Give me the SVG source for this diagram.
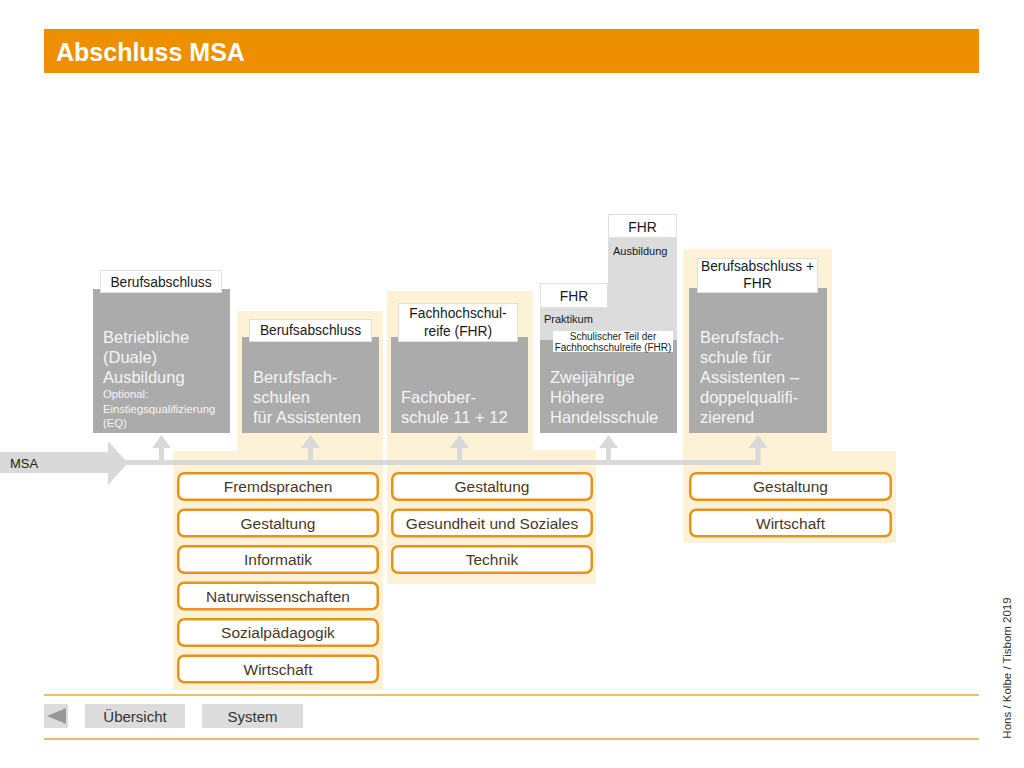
<svg xmlns="http://www.w3.org/2000/svg" width="1024" height="768" viewBox="0 0 1024 768">
<defs>
<style>
text{font-family:"Liberation Sans",Arial,sans-serif}
.cream{fill:#FDF1D6}
.gray{fill:#ABABAB}
.lgray{fill:#DCDCDC}
.lbl{fill:#FFFFFF;stroke:#E0E0E0;stroke-width:1}
.lt{font-size:13.8px;fill:#1A1A1A;text-anchor:middle}
.nt{font-size:16.5px;fill:#F5F5F5}
.st{font-size:11.3px;fill:#F5F5F5}
.sm{font-size:11px;fill:#1A1A1A}
.ob{fill:#FFFFFF;stroke:#E8921E;stroke-width:2.5}
.ot{font-size:15.5px;fill:#4A3826;text-anchor:middle}
.conn{fill:#D9D9D9}
.nav{fill:#DCDCDC}
.navt{font-size:15px;fill:#333333;text-anchor:middle}
.rule{stroke:#F2A030;stroke-width:1.5}
</style>
</defs>
<rect width="1024" height="768" fill="#FFFFFF"/>

<g id="title">
<rect x="44" y="29" width="935" height="44" fill="#EE8F00"/>
<text x="56" y="61" font-size="25" font-weight="bold" fill="#FFFFFF">Abschluss MSA</text>
</g>

<g id="backgrounds">
<path class="cream" d="M237,311 H383 V690 H173 V451 H237 Z"/>
<path class="cream" d="M387,291 H533 V450 H596 V584 H387 Z"/>
<path class="cream" d="M683,249 H832 V451 H896 V543 H683 Z"/>
</g>

<g id="connectors">
<path class="conn" d="M0,452 H108 V441 L128,463 L108,485 V473 H0 Z"/>
<rect class="conn" x="126" y="460" width="634.5" height="5"/>
<path class="conn" d="M159,448 H164 V462 H159 Z M152,448 L161.5,435 L171,448 Z"/>
<path class="conn" d="M308,448 H313 V462 H308 Z M301,448 L310.5,435 L320,448 Z"/>
<path class="conn" d="M457,448 H462 V462 H457 Z M450,448 L459.5,435 L469,448 Z"/>
<path class="conn" d="M606,448 H611 V462 H606 Z M599,448 L608.5,435 L618,448 Z"/>
<path class="conn" d="M755.5,448 H760.5 V465 H755.5 Z M748.5,448 L758,435 L767.5,448 Z"/>
<text x="10" y="468" font-size="13" fill="#222222">MSA</text>
</g>

<g id="node-betriebliche">
<rect class="gray" x="93" y="289" width="137" height="144"/>
<rect class="lbl" x="100.5" y="270.5" width="121" height="22"/>
<text class="lt" x="161" y="287">Berufsabschluss</text>
<text class="nt" x="103"><tspan x="103" y="343">Betriebliche</tspan><tspan x="103" y="363">(Duale)</tspan><tspan x="103" y="383">Ausbildung</tspan></text>
<text class="st"><tspan x="103" y="398">Optional:</tspan><tspan x="103" y="412.5">Einstiegsqualifizierung</tspan><tspan x="103" y="427">(EQ)</tspan></text>
</g>

<g id="node-berufsfachschulen">
<rect class="gray" x="242" y="337" width="137" height="96"/>
<rect class="lbl" x="249.5" y="319.5" width="122" height="22"/>
<text class="lt" x="310.5" y="335">Berufsabschluss</text>
<text class="nt"><tspan x="253" y="383">Berufsfach-</tspan><tspan x="253" y="403">schulen</tspan><tspan x="253" y="423">für Assistenten</tspan></text>
</g>

<g id="node-fachoberschule">
<rect class="gray" x="391" y="337" width="137" height="96"/>
<rect class="lbl" x="398.5" y="303.5" width="119" height="38"/>
<text class="lt"><tspan x="458" y="318">Fachhochschul-</tspan><tspan x="458" y="336">reife (FHR)</tspan></text>
<text class="nt"><tspan x="401" y="403">Fachober-</tspan><tspan x="401" y="423">schule 11 + 12</tspan></text>
</g>

<g id="node-handelsschule">
<rect class="lgray" x="608" y="238" width="69" height="102"/>
<rect class="lgray" x="540" y="307" width="68" height="33"/>
<rect class="gray" x="540" y="340" width="137" height="93"/>
<rect class="lbl" x="540.5" y="283.5" width="67" height="24"/>
<text class="lt" x="574" y="301">FHR</text>
<rect class="lbl" x="608.5" y="214.5" width="68" height="23"/>
<text class="lt" x="642.5" y="232">FHR</text>
<text class="sm" x="544" y="323">Praktikum</text>
<text class="sm" x="613" y="255">Ausbildung</text>
<rect x="553" y="331" width="120" height="21" fill="#FFFFFF"/>
<text font-size="10" fill="#1A1A1A" text-anchor="middle"><tspan x="613" y="340">Schulischer Teil der</tspan><tspan x="613" y="351">Fachhochschulreife (FHR)</tspan></text>
<text class="nt"><tspan x="550" y="383">Zweijährige</tspan><tspan x="550" y="403">Höhere</tspan><tspan x="550" y="423">Handelsschule</tspan></text>
</g>

<g id="node-doppelqualifizierend">
<rect class="gray" x="689" y="288" width="138" height="145"/>
<rect class="lbl" x="697.5" y="258.5" width="120" height="34"/>
<text class="lt"><tspan x="757.5" y="271">Berufsabschluss +</tspan><tspan x="757.5" y="288">FHR</tspan></text>
<text class="nt"><tspan x="700" y="343">Berufsfach-</tspan><tspan x="700" y="363">schule für</tspan><tspan x="700" y="383">Assistenten –</tspan><tspan x="700" y="403">doppelqualifi-</tspan><tspan x="700" y="423">zierend</tspan></text>
</g>

<g id="list-berufsfachschulen">
<rect class="ob" x="178.25" y="473.25" width="199.5" height="26.5" rx="6"/>
<text class="ot" x="278" y="492">Fremdsprachen</text>
<rect class="ob" x="178.25" y="509.75" width="199.5" height="26.5" rx="6"/>
<text class="ot" x="278" y="528.5">Gestaltung</text>
<rect class="ob" x="178.25" y="546.25" width="199.5" height="26.5" rx="6"/>
<text class="ot" x="278" y="565">Informatik</text>
<rect class="ob" x="178.25" y="582.75" width="199.5" height="26.5" rx="6"/>
<text class="ot" x="278" y="601.5">Naturwissenschaften</text>
<rect class="ob" x="178.25" y="619.25" width="199.5" height="26.5" rx="6"/>
<text class="ot" x="278" y="638">Sozialpädagogik</text>
<rect class="ob" x="178.25" y="655.75" width="199.5" height="26.5" rx="6"/>
<text class="ot" x="278" y="674.5">Wirtschaft</text>
</g>

<g id="list-fachoberschule">
<rect class="ob" x="392.25" y="473.25" width="199.5" height="26.5" rx="6"/>
<text class="ot" x="492" y="492">Gestaltung</text>
<rect class="ob" x="392.25" y="509.75" width="199.5" height="26.5" rx="6"/>
<text class="ot" x="492" y="528.5">Gesundheit und Soziales</text>
<rect class="ob" x="392.25" y="546.25" width="199.5" height="26.5" rx="6"/>
<text class="ot" x="492" y="565">Technik</text>
</g>

<g id="list-doppelqualifizierend">
<rect class="ob" x="690.25" y="473.25" width="200.5" height="26.5" rx="6"/>
<text class="ot" x="790.5" y="492">Gestaltung</text>
<rect class="ob" x="690.25" y="509.75" width="200.5" height="26.5" rx="6"/>
<text class="ot" x="790.5" y="528.5">Wirtschaft</text>
</g>

<g id="footer">
<line class="rule" x1="44" y1="695" x2="979" y2="695"/>
<line class="rule" x1="44" y1="739" x2="979" y2="739"/>
<rect class="nav" x="44" y="704" width="24" height="24"/>
<path d="M47,716 L66,708 V724 Z" fill="#999999"/>
<rect class="nav" x="85" y="704" width="100" height="24"/>
<text class="navt" x="135" y="722">Übersicht</text>
<rect class="nav" x="202" y="704" width="101" height="24"/>
<text class="navt" x="252.5" y="722">System</text>
<text font-size="11.5" fill="#333333" text-anchor="middle" transform="translate(1011,668) rotate(-90)">Hons / Kolbe / Tisbom 2019</text>
</g>
</svg>
